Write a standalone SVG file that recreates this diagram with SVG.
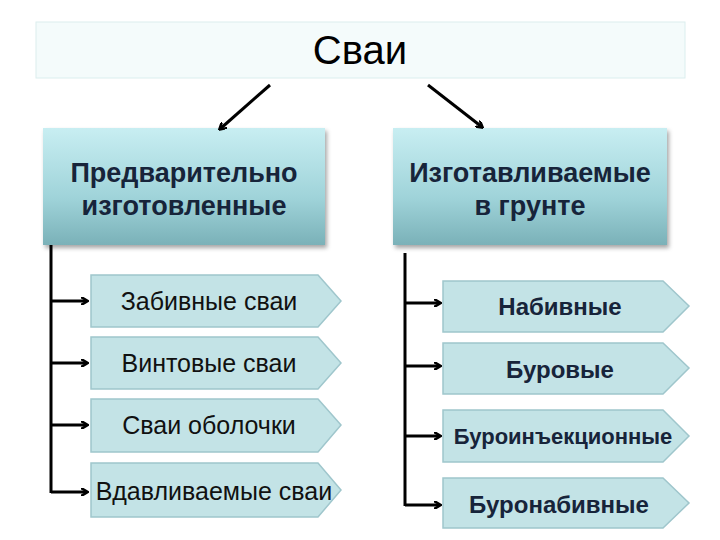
<svg xmlns="http://www.w3.org/2000/svg" width="720" height="540" viewBox="0 0 720 540">
<style>
.b{font-family:"Liberation Sans",Arial,sans-serif;font-weight:bold;fill:#17243a;text-anchor:middle}
.n{font-family:"Liberation Sans",Arial,sans-serif;fill:#111;text-anchor:middle;font-size:25px}
.p{fill:#c3e3e6;stroke:#9fc6cc;stroke-width:1.5}
.c{stroke:#000;stroke-width:3;fill:none}
</style>
<defs>
<linearGradient id="g" x1="0" y1="0" x2="0" y2="1"><stop offset="0" stop-color="#c8eef2"/><stop offset="0.6" stop-color="#9fd3d9"/><stop offset="1" stop-color="#7ab1b8"/></linearGradient>
<marker id="a" markerWidth="8" markerHeight="8" refX="6" refY="4" orient="auto" markerUnits="userSpaceOnUse"><path d="M0,0 L7,4 L0,8" fill="none" stroke="#000" stroke-width="2.5"/></marker>
<filter id="s"><feDropShadow dx="2" dy="3" stdDeviation="2" flood-opacity="0.35"/></filter>
</defs>
<rect width="720" height="540" fill="#fff"/>
<g id="root"><rect x="36" y="22" width="649" height="56" fill="#f4fbfb" stroke="#dbeeee"/><text x="360" y="64" font-family="Liberation Sans,Arial,sans-serif" font-size="40" text-anchor="middle">Сваи</text></g>
<g id="h1"><rect x="43" y="128" width="282" height="117" fill="url(#g)" filter="url(#s)"/><text class="b" font-size="27" x="184" y="182">Предварительно</text><text class="b" font-size="27" x="184" y="215">изготовленные</text></g>
<g id="h2"><rect x="393" y="128" width="274" height="117" fill="url(#g)" filter="url(#s)"/><text class="b" font-size="27" x="530" y="182">Изготавливаемые</text><text class="b" font-size="27" x="530" y="215">в грунте</text></g>
<g id="l1"><path class="p" d="M91,275 H318 L341,301 L318,327 H91 Z"/><text class="n" x="209" y="310">Забивные сваи</text></g>
<g id="l2"><path class="p" d="M91,337 H318 L341,363 L318,389 H91 Z"/><text class="n" x="209" y="372">Винтовые сваи</text></g>
<g id="l3"><path class="p" d="M91,399 H318 L341,425 L318,452 H91 Z"/><text class="n" x="209" y="434">Сваи оболочки</text></g>
<g id="l4"><path class="p" d="M91,463 H318 L341,490 L318,517 H91 Z"/><text class="n" x="214" y="500" font-size="18">Вдавливаемые сваи</text></g>
<g id="r1"><path class="p" d="M443,281 H663 L689,306 L663,332 H443 Z"/><text class="b" font-size="24" x="560" y="315">Набивные</text></g>
<g id="r2"><path class="p" d="M443,343 H663 L689,368 L663,394 H443 Z"/><text class="b" font-size="24" x="560" y="378">Буровые</text></g>
<g id="r3"><path class="p" d="M443,410 H663 L689,436 L663,462 H443 Z"/><text class="b" font-size="22" x="563" y="444">Буроинъекционные</text></g>
<g id="r4"><path class="p" d="M443,478 H663 L689,503 L663,528 H443 Z"/><text class="b" font-size="24" x="559" y="513">Буронабивные</text></g>
<g id="connectors">
<path class="c" d="M270,85 L220,129" marker-end="url(#a)"/>
<path class="c" d="M428,85 L482,127" marker-end="url(#a)"/>
<path class="c" d="M51,245 V493"/>
<path class="c" d="M51,301 H87" marker-end="url(#a)"/>
<path class="c" d="M51,363 H87" marker-end="url(#a)"/>
<path class="c" d="M51,425 H87" marker-end="url(#a)"/>
<path class="c" d="M51,492 H87" marker-end="url(#a)"/>
<path class="c" d="M405,253 V506"/>
<path class="c" d="M405,303 H440" marker-end="url(#a)"/>
<path class="c" d="M405,366 H440" marker-end="url(#a)"/>
<path class="c" d="M405,436 H440" marker-end="url(#a)"/>
<path class="c" d="M405,505 H440" marker-end="url(#a)"/>
</g>
</svg>
